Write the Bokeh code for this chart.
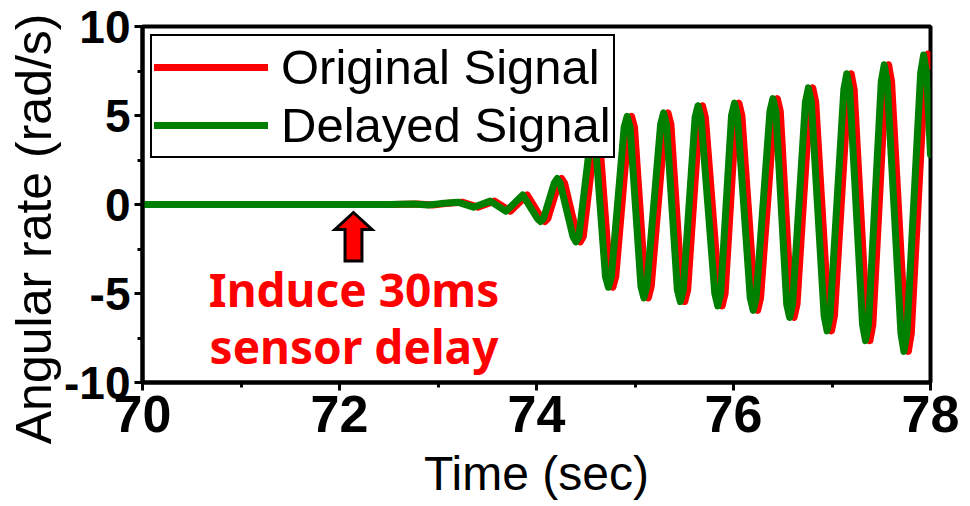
from bokeh.plotting import figure
from bokeh.models import (Range1d, SingleIntervalTicker, Legend, LegendItem,
                          Label, PolyAnnotation, PrintfTickFormatter, Title)
from bokeh.embed import file_html
from bokeh.resources import INLINE

# ---------------- data ----------------
# Delayed signal (green): readings at extrema and their shoulders
green_t = [70.00, 72.50, 72.75, 72.90, 73.03, 73.20, 73.36, 73.53, 73.69, 73.86,
           74.01, 74.04, 74.07,
           74.18, 74.21, 74.24,
           74.37, 74.40, 74.43,
           74.54, 74.57, 74.60,
           74.70, 74.73, 74.76,
           74.89, 74.92, 74.95,
           75.06, 75.09, 75.12,
           75.26, 75.29, 75.32,
           75.43, 75.46, 75.49,
           75.61, 75.64, 75.67,
           75.81, 75.84, 75.87,
           75.98, 76.01, 76.04,
           76.17, 76.20, 76.23,
           76.37, 76.40, 76.43,
           76.54, 76.57, 76.60,
           76.73, 76.76, 76.79,
           76.92, 76.95, 76.98,
           77.12, 77.15, 77.18,
           77.31, 77.34, 77.37,
           77.50, 77.53, 77.56,
           77.70, 77.73, 77.76,
           77.90, 77.93, 77.96,
           78.00]
green_v = [0.00, 0.00, 0.03, -0.03, 0.05, 0.13, -0.15, 0.19, -0.38, 0.54,
           -0.80, -0.96, -0.80,
           1.20, 1.46, 1.20,
           -1.80, -2.10, -1.80,
           3.30, 3.80, 3.30,
           -4.05, -4.65, -4.05,
           4.35, 4.95, 4.35,
           -4.60, -5.25, -4.60,
           4.50, 5.15, 4.50,
           -4.80, -5.45, -4.80,
           4.90, 5.55, 4.90,
           -5.00, -5.70, -5.00,
           5.00, 5.70, 5.00,
           -5.25, -5.95, -5.25,
           5.25, 5.95, 5.25,
           -5.60, -6.35, -5.60,
           5.75, 6.55, 5.75,
           -6.25, -7.10, -6.25,
           6.45, 7.35, 6.45,
           -6.75, -7.65, -6.75,
           6.90, 7.85, 6.90,
           -7.25, -8.25, -7.25,
           7.40, 8.40, 7.40,
           2.80]

# Original signal (red): readings at extrema and their shoulders
red_t = [70.00, 72.545, 72.795, 72.945, 73.075, 73.245, 73.405, 73.575, 73.735, 73.905,
         74.055, 74.085, 74.115,
         74.225, 74.255, 74.285,
         74.415, 74.445, 74.475,
         74.585, 74.615, 74.645,
         74.745, 74.775, 74.805,
         74.935, 74.965, 74.995,
         75.105, 75.135, 75.165,
         75.305, 75.335, 75.365,
         75.475, 75.505, 75.535,
         75.655, 75.685, 75.715,
         75.855, 75.885, 75.915,
         76.025, 76.055, 76.085,
         76.215, 76.245, 76.275,
         76.415, 76.445, 76.475,
         76.585, 76.615, 76.645,
         76.775, 76.805, 76.835,
         76.965, 76.995, 77.025,
         77.165, 77.195, 77.225,
         77.355, 77.385, 77.415,
         77.545, 77.575, 77.605,
         77.745, 77.775, 77.805,
         77.945, 77.975, 78.00]
red_v = [0.00, 0.00, 0.03, -0.03, 0.05, 0.13, -0.15, 0.19, -0.38, 0.54,
         -0.80, -0.96, -0.80,
         1.20, 1.46, 1.20,
         -1.80, -2.10, -1.80,
         3.30, 3.80, 3.30,
         -4.05, -4.65, -4.05,
         4.35, 4.95, 4.35,
         -4.60, -5.25, -4.60,
         4.50, 5.15, 4.50,
         -4.80, -5.45, -4.80,
         4.90, 5.55, 4.90,
         -5.00, -5.70, -5.00,
         5.00, 5.70, 5.00,
         -5.25, -5.95, -5.25,
         5.25, 5.95, 5.25,
         -5.60, -6.35, -5.60,
         5.75, 6.55, 5.75,
         -6.25, -7.10, -6.25,
         6.45, 7.35, 6.45,
         -6.75, -7.65, -6.75,
         6.90, 7.85, 6.90,
         -7.25, -8.25, -7.25,
         7.40, 8.45, 7.75]

series_names = ["Original Signal", "Delayed Signal"]
x_label = "Time (sec)"
y_label = "Angular rate (rad/s)"
note_lines = ["Induce 30ms", "sensor delay"]

# ---------------- figure ----------------
p = figure(width=970, height=506, output_backend="svg", toolbar_location=None,
           x_range=Range1d(70, 78), y_range=Range1d(-10, 10),
           min_border_left=142, min_border_right=40, min_border_top=26,
           min_border_bottom=124)
p.background_fill_color = "white"
p.border_fill_color = "white"
p.outline_line_color = "black"
p.outline_line_width = 4
p.outline_line_alpha = 1.0
p.xgrid.visible = False
p.ygrid.visible = False

r_red = p.line(red_t, red_v, line_color="#ff0000", line_width=7,
               line_join="round", line_cap="round")
r_green = p.line(green_t, green_v, line_color="#008000", line_width=7,
                 line_join="round", line_cap="round")

# axes
p.xaxis.ticker = SingleIntervalTicker(interval=2, num_minor_ticks=2)
p.yaxis.ticker = SingleIntervalTicker(interval=5, num_minor_ticks=2)
p.xaxis.formatter = PrintfTickFormatter(format="%d")
p.yaxis.formatter = PrintfTickFormatter(format="%d")
for ax in (p.xaxis[0], p.yaxis[0]):
    ax.axis_line_width = 4
    ax.axis_line_color = "black"
    ax.major_tick_in = 0
    ax.major_tick_out = 8
    ax.minor_tick_in = 0
    ax.minor_tick_out = 5
    ax.major_tick_line_width = 3
    ax.minor_tick_line_width = 3
    ax.major_tick_line_color = "black"
    ax.minor_tick_line_color = "black"
    ax.major_label_text_font = "Liberation Sans"
    ax.major_label_text_font_style = "bold"
    ax.major_label_text_color = "black"
    ax.axis_label_text_font = "Liberation Sans"
    ax.axis_label_text_font_style = "normal"
    ax.axis_label_text_font_size = "48px"
    ax.axis_label_text_color = "black"
p.xaxis.major_label_text_font_size = "52px"
p.yaxis.major_label_text_font_size = "46px"
p.xaxis.major_label_standoff = 5
p.yaxis.major_label_standoff = 4
p.xaxis.axis_label = x_label
p.xaxis.axis_label_standoff = 12

# y-axis title in the left panel; its end sits 13px from the top like the reference
p.add_layout(Title(text=y_label, align="right", offset=-13, standoff=0,
                   text_font="Liberation Sans", text_font_size="50px",
                   text_font_style="normal", text_color="black"), "left")

# legend
legend = Legend(items=[LegendItem(label=series_names[0], renderers=[r_red]),
                       LegendItem(label=series_names[1], renderers=[r_green])],
                location="top_left", margin=8, padding=2, spacing=0,
                glyph_width=114, glyph_height=58, label_standoff=13,
                label_text_font="Liberation Sans", label_text_font_size="49px",
                label_text_color="black", border_line_color="black",
                border_line_alpha=1.0, border_line_width=2.5,
                background_fill_color="white", background_fill_alpha=1.0)
p.add_layout(legend)

# arrow annotation
ax0 = 72.142
hw_head = 0.188
hw_shaft = 0.086
y_tip, y_base, y_bot = -0.45, -1.40, -3.17
p.add_layout(PolyAnnotation(
    xs=[ax0, ax0 + hw_head, ax0 + hw_shaft, ax0 + hw_shaft, ax0 - hw_shaft, ax0 - hw_shaft, ax0 - hw_head],
    ys=[y_tip, y_base, y_base, y_bot, y_bot, y_base, y_base],
    fill_color="#ff0000", fill_alpha=1.0, line_color="black", line_alpha=1.0,
    line_width=3, line_join="miter"))

# annotation text
for txt, yy in zip(note_lines, [-4.72, -7.97]):
    p.add_layout(Label(x=72.147, y=yy, text=txt, text_align="center",
                       text_baseline="alphabetic", text_font="Noto Sans",
                       text_font_style="bold", text_font_size="46px",
                       text_color="#ff0000"))

open("out.html", "w").write(file_html(p, INLINE))
